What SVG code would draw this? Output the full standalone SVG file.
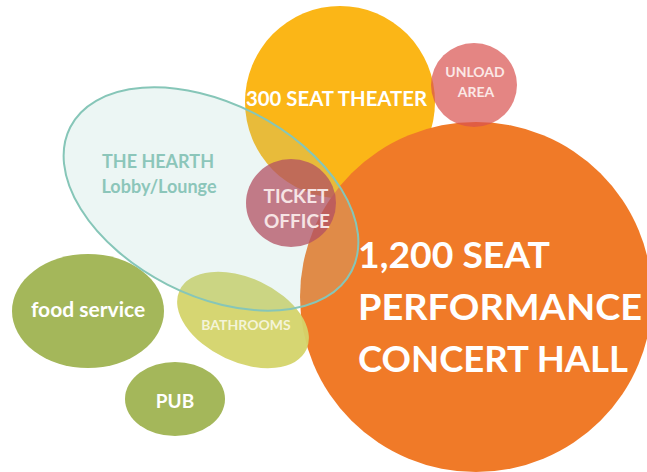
<svg xmlns="http://www.w3.org/2000/svg" width="647" height="472" viewBox="0 0 647 472">
<style>
text{font-family:Lato,"Open Sans","Liberation Sans",sans-serif;font-weight:bold}
.w{fill:#ffffff}
.big{font-size:37px}
</style>
<rect width="647" height="472" fill="#ffffff"/>
<g id="theater">
<ellipse cx="340" cy="102" rx="95" ry="96" fill="#fbb617"/>
</g>
<g id="concert-hall">
<ellipse cx="476" cy="297" rx="176" ry="175" fill="#f07a28"/>
</g>
<g id="unload">
<ellipse cx="474" cy="85" rx="43" ry="42" fill="#d9514f" fill-opacity="0.7"/>
</g>
<g id="ticket-office">
<ellipse cx="291" cy="203" rx="45" ry="44" fill="#b8304a" fill-opacity="0.75"/>
</g>
<g id="food-service">
<ellipse cx="88" cy="311" rx="76" ry="57" fill="#a4b75a"/>
</g>
<g id="pub">
<ellipse cx="175" cy="399" rx="50" ry="37" fill="#a4b75a"/>
</g>
<g id="bathrooms">
<ellipse cx="0" cy="0" rx="70" ry="42" transform="translate(243 320) rotate(25)" fill="#d4d46a" fill-opacity="0.95"/>
</g>
<g id="hearth">
<ellipse cx="0" cy="0" rx="158" ry="96" transform="translate(211 199) rotate(27)" fill="#a0d2c8" fill-opacity="0.2" stroke="#86c6b8" stroke-width="2"/>
<text x="158" y="168" font-size="18" fill="#8cc6ba" text-anchor="middle">THE HEARTH</text>
<text x="159" y="193" font-size="18" fill="#8cc6ba" text-anchor="middle">Lobby/Lounge</text>
</g>
<g id="labels">
<text x="246" y="106" font-size="21" class="w" textLength="181" lengthAdjust="spacingAndGlyphs">300 SEAT THEATER</text>
<text x="475" y="77" font-size="14" fill="#fbe8e6" text-anchor="middle">UNLOAD</text>
<text x="476" y="97" font-size="14" fill="#fbe8e6" text-anchor="middle">AREA</text>
<text x="296" y="203" font-size="19" fill="#f6e4e4" text-anchor="middle">TICKET</text>
<text x="297" y="228" font-size="19" fill="#f6e4e4" text-anchor="middle">OFFICE</text>
<text x="358" y="268" class="w big" textLength="192" lengthAdjust="spacingAndGlyphs">1,200 SEAT</text>
<text x="358" y="320" class="w big" textLength="284" lengthAdjust="spacingAndGlyphs">PERFORMANCE</text>
<text x="358" y="372" class="w big" textLength="270" lengthAdjust="spacingAndGlyphs">CONCERT HALL</text>
<text x="88" y="317" font-size="21" class="w" text-anchor="middle">food service</text>
<text x="175" y="408" font-size="19" class="w" text-anchor="middle">PUB</text>
<text x="246" y="330" font-size="14" fill="#f4f4d8" text-anchor="middle">BATHROOMS</text>
</g>
</svg>
